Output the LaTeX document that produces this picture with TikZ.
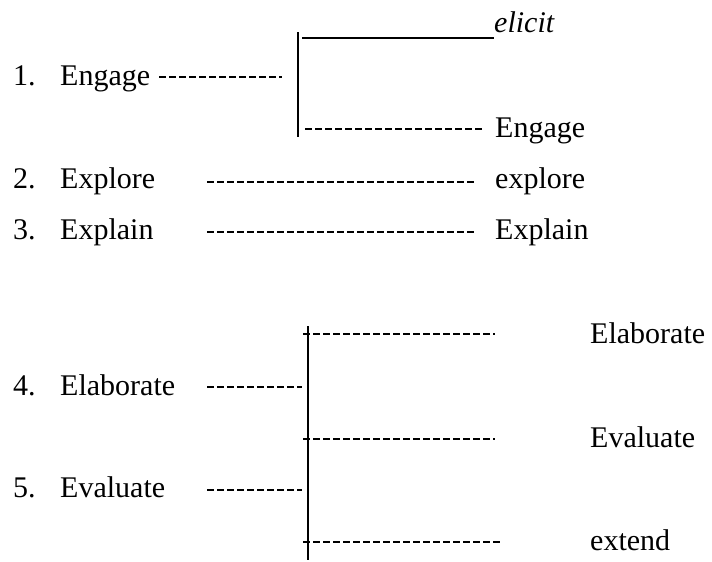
\documentclass[tikz,border=0pt]{standalone}
\usepackage{fontspec}
\setmainfont{Liberation Serif}
\usetikzlibrary{positioning}

\tikzset{
  item/.style={anchor=base west, inner sep=0pt, font=\fontsize{30}{36}\selectfont},
  hyph/.style={line width=2.3pt, dash pattern=on 6.5pt off 3.5pt},
  bar/.style={line width=2pt},
  rule/.style={line width=1.3pt}
}

\begin{document}
\begin{tikzpicture}[x=1pt,y=-1pt]
                    \useasboundingbox (0,0) rectangle (712,562);
                    % left list
                    \node[item] (n1) at (13,85) {1.};
                    \node[item] (l1) at (60,85) {Engage};
                    \node[item] (n2) at (13,188) {2.};
                    \node[item] (l2) at (60,188) {Explore};
                    \node[item] (n3) at (13,239) {3.};
                    \node[item] (l3) at (60,239) {Explain};
                    \node[item] (n4) at (13,395) {4.};
                    \node[item] (l4) at (60,395) {Elaborate};
                    \node[item] (n5) at (13,497) {5.};
                    \node[item] (l5) at (60,497) {Evaluate};
                    % right list
                    \node[item, font=\fontsize{30}{36}\selectfont\itshape] (r1a) at (494,32) {elicit};
                    \node[item] (r1b) at (495,137) {Engage};
                    \node[item] (r2) at (495,188) {explore};
                    \node[item] (r3) at (495,239) {Explain};
                    \node[item] (r4a) at (590,343) {Elaborate};
                    \node[item] (r4b) at (590,447) {Evaluate};
                    \node[item] (r4c) at (590,550) {extend};
                    % first bracket
                    \coordinate (b1t) at (298,32);
                    \coordinate (b1b) at (298,137);
                    \coordinate (j1) at (282,77);
                    \coordinate (e1) at (302,38);
                    \coordinate (e2) at (305,129);
                    \draw[bar] (b1t) -- (b1b);
                    \draw[hyph] ([xshift=9pt,yshift=8pt]l1.base east) -- (j1);
                    \draw[rule] (e1) -- ([yshift=-6pt]r1a.base west);
                    \draw[hyph] (e2) -- ([xshift=-13pt,yshift=8pt]r1b.base west);
                    % straight rows
                    \coordinate (s2) at (207,182);
                    \coordinate (s3) at (207,232);
                    \draw[hyph] (s2) -- ([xshift=-20pt,yshift=6pt]r2.base west);
                    \draw[hyph] (s3) -- ([xshift=-20pt,yshift=7pt]r3.base west);
                    % second bracket
                    \coordinate (b2t) at (308,326);
                    \coordinate (b2b) at (308,560);
                    \coordinate (s4) at (207,387);
                    \coordinate (j4) at (302,387);
                    \coordinate (s5) at (207,490);
                    \coordinate (j5) at (302,490);
                    \coordinate (t1) at (303,334);
                    \coordinate (t2) at (303,439);
                    \coordinate (t3) at (303,542);
                    \draw[bar] (b2t) -- (b2b);
                    \draw[hyph] (s4) -- (j4);
                    \draw[hyph] (s5) -- (j5);
                    \draw[hyph] (t1) -- ([xshift=-95pt,yshift=9pt]r4a.base west);
                    \draw[hyph] (t2) -- ([xshift=-95pt,yshift=8pt]r4b.base west);
                    \draw[hyph] (t3) -- ([xshift=-87pt,yshift=8pt]r4c.base west);
                \end{tikzpicture}
\end{document}
